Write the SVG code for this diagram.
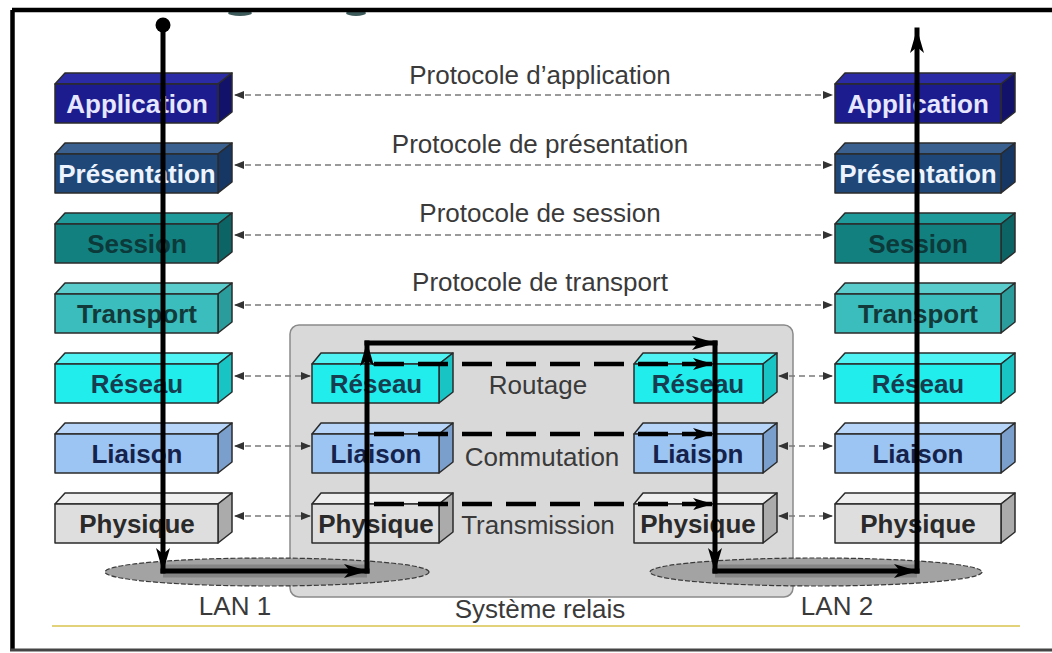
<svg xmlns="http://www.w3.org/2000/svg" width="1052" height="653" viewBox="0 0 1052 653">
<defs>
<style>
.bx{stroke:#2b2b2b;stroke-width:1.5;stroke-linejoin:round}
.lbl{font-family:"Liberation Sans",Arial,sans-serif;font-weight:bold;font-size:26px;text-anchor:middle}
.txt{font-family:"Liberation Sans",Arial,sans-serif;font-size:26px;text-anchor:middle;fill:#3a3a3a}
.proto{fill:none;stroke:#7a7a7a;stroke-width:1.6;stroke-dasharray:6 4;marker-start:url(#sm);marker-end:url(#sm)}
.thick{fill:none;stroke:#000;stroke-width:5;stroke-linecap:square;marker-end:url(#big)}
.tdash{fill:none;stroke:#000;stroke-width:4.5;stroke-dasharray:30 14;marker-end:url(#mid)}
.lan{fill:#a3a3a3;stroke:#3a3a3a;stroke-width:1.2;stroke-dasharray:5 2}
</style>
<marker id="sm" viewBox="0 0 10 8" refX="9" refY="4" markerWidth="10" markerHeight="8" markerUnits="userSpaceOnUse" orient="auto-start-reverse">
<path d="M0,0 L10,4 L0,8 z" fill="#333"/>
</marker>
<marker id="big" viewBox="0 0 24 14" refX="23" refY="7" markerWidth="24" markerHeight="14" markerUnits="userSpaceOnUse" orient="auto">
<path d="M0,0 L24,7 L0,14 L6,7 z" fill="#000"/>
</marker>
<marker id="mid" viewBox="0 0 20 12" refX="19" refY="6" markerWidth="20" markerHeight="12" markerUnits="userSpaceOnUse" orient="auto">
<path d="M0,0 L20,6 L0,12 L5,6 z" fill="#000"/>
</marker>
</defs>

<rect x="0" y="0" width="1052" height="653" fill="#ffffff"/>

<g id="frame">
<ellipse cx="240" cy="13" rx="12" ry="3" fill="#3d5a5a"/>
<ellipse cx="356" cy="13" rx="10" ry="3" fill="#3d5a5a"/>
<line x1="12" y1="10" x2="1052" y2="10" stroke="#000" stroke-width="4.5"/>
<line x1="12.5" y1="10" x2="12.5" y2="651" stroke="#000" stroke-width="4.5"/>
<line x1="10" y1="650" x2="1052" y2="650" stroke="#444" stroke-width="3"/>
<line x1="52" y1="626" x2="1020" y2="626" stroke="#e2d27a" stroke-width="2"/>
</g>

<g id="relay-system">
<rect x="290" y="325" width="503" height="272" rx="9" fill="#d9d9d9" stroke="#8a8a8a" stroke-width="1.5"/>
<text class="txt" x="540" y="618">Système relais</text>
</g>

<g id="lan1">
<ellipse class="lan" cx="267" cy="572" rx="162" ry="14"/>
<text class="txt" x="235" y="615" font-size="25">LAN 1</text>
</g>
<g id="lan2">
<ellipse class="lan" cx="816" cy="572" rx="166" ry="14"/>
<text class="txt" x="837" y="615" font-size="25">LAN 2</text>
</g>

<!-- left stack -->
<g id="l-application">
<path class="bx" d="M55,84 L65,73 L232,73 L218,84 Z" fill="#2b2ba6"/>
<path class="bx" d="M218,84 L232,73 L232,112 L218,123 Z" fill="#12126a"/>
<rect class="bx" x="55" y="84" width="163" height="39" fill="#1c1c8e"/>
<text class="lbl" x="137" y="113" fill="#e6e6ff">Application</text>
</g>
<g id="l-presentation">
<path class="bx" d="M55,154 L65,143 L232,143 L218,154 Z" fill="#3a6090"/>
<path class="bx" d="M218,154 L232,143 L232,182 L218,193 Z" fill="#163763"/>
<rect class="bx" x="55" y="154" width="163" height="39" fill="#1f4878"/>
<text class="lbl" x="137" y="183" fill="#eef4ff">Présentation</text>
</g>
<g id="l-session">
<path class="bx" d="M55,224 L65,213 L232,213 L218,224 Z" fill="#1f9a9a"/>
<path class="bx" d="M218,224 L232,213 L232,252 L218,263 Z" fill="#0d6464"/>
<rect class="bx" x="55" y="224" width="163" height="39" fill="#138080"/>
<text class="lbl" x="137" y="253" fill="#0c3a3a">Session</text>
</g>
<g id="l-transport">
<path class="bx" d="M55,294 L65,283 L232,283 L218,294 Z" fill="#5acccc"/>
<path class="bx" d="M218,294 L232,283 L232,322 L218,333 Z" fill="#2a9c9c"/>
<rect class="bx" x="55" y="294" width="163" height="39" fill="#3cbdbd"/>
<text class="lbl" x="137" y="323" fill="#123a3a">Transport</text>
</g>
<g id="l-reseau">
<path class="bx" d="M55,364 L65,353 L232,353 L218,364 Z" fill="#4ff3f3"/>
<path class="bx" d="M218,364 L232,353 L232,392 L218,403 Z" fill="#18c4c4"/>
<rect class="bx" x="55" y="364" width="163" height="39" fill="#22eded"/>
<text class="lbl" x="137" y="393" fill="#163e50">Réseau</text>
</g>
<g id="l-liaison">
<path class="bx" d="M55,434 L65,423 L232,423 L218,434 Z" fill="#b6d5f8"/>
<path class="bx" d="M218,434 L232,423 L232,462 L218,473 Z" fill="#7b9fcc"/>
<rect class="bx" x="55" y="434" width="163" height="39" fill="#9cc5f3"/>
<text class="lbl" x="137" y="463" fill="#14224c">Liaison</text>
</g>
<g id="l-physique">
<path class="bx" d="M55,504 L65,493 L232,493 L218,504 Z" fill="#efefef"/>
<path class="bx" d="M218,504 L232,493 L232,532 L218,543 Z" fill="#ababab"/>
<rect class="bx" x="55" y="504" width="163" height="39" fill="#dedede"/>
<text class="lbl" x="137" y="533" fill="#2a2a2a">Physique</text>
</g>

<!-- right stack -->
<g id="r-application">
<path class="bx" d="M835,84 L845,73 L1015,73 L1001,84 Z" fill="#2b2ba6"/>
<path class="bx" d="M1001,84 L1015,73 L1015,112 L1001,123 Z" fill="#12126a"/>
<rect class="bx" x="835" y="84" width="166" height="39" fill="#1c1c8e"/>
<text class="lbl" x="918" y="113" fill="#e6e6ff">Application</text>
</g>
<g id="r-presentation">
<path class="bx" d="M835,154 L845,143 L1015,143 L1001,154 Z" fill="#3a6090"/>
<path class="bx" d="M1001,154 L1015,143 L1015,182 L1001,193 Z" fill="#163763"/>
<rect class="bx" x="835" y="154" width="166" height="39" fill="#1f4878"/>
<text class="lbl" x="918" y="183" fill="#eef4ff">Présentation</text>
</g>
<g id="r-session">
<path class="bx" d="M835,224 L845,213 L1015,213 L1001,224 Z" fill="#1f9a9a"/>
<path class="bx" d="M1001,224 L1015,213 L1015,252 L1001,263 Z" fill="#0d6464"/>
<rect class="bx" x="835" y="224" width="166" height="39" fill="#138080"/>
<text class="lbl" x="918" y="253" fill="#0c3a3a">Session</text>
</g>
<g id="r-transport">
<path class="bx" d="M835,294 L845,283 L1015,283 L1001,294 Z" fill="#5acccc"/>
<path class="bx" d="M1001,294 L1015,283 L1015,322 L1001,333 Z" fill="#2a9c9c"/>
<rect class="bx" x="835" y="294" width="166" height="39" fill="#3cbdbd"/>
<text class="lbl" x="918" y="323" fill="#123a3a">Transport</text>
</g>
<g id="r-reseau">
<path class="bx" d="M835,364 L845,353 L1015,353 L1001,364 Z" fill="#4ff3f3"/>
<path class="bx" d="M1001,364 L1015,353 L1015,392 L1001,403 Z" fill="#18c4c4"/>
<rect class="bx" x="835" y="364" width="166" height="39" fill="#22eded"/>
<text class="lbl" x="918" y="393" fill="#163e50">Réseau</text>
</g>
<g id="r-liaison">
<path class="bx" d="M835,434 L845,423 L1015,423 L1001,434 Z" fill="#b6d5f8"/>
<path class="bx" d="M1001,434 L1015,423 L1015,462 L1001,473 Z" fill="#7b9fcc"/>
<rect class="bx" x="835" y="434" width="166" height="39" fill="#9cc5f3"/>
<text class="lbl" x="918" y="463" fill="#14224c">Liaison</text>
</g>
<g id="r-physique">
<path class="bx" d="M835,504 L845,493 L1015,493 L1001,504 Z" fill="#efefef"/>
<path class="bx" d="M1001,504 L1015,493 L1015,532 L1001,543 Z" fill="#ababab"/>
<rect class="bx" x="835" y="504" width="166" height="39" fill="#dedede"/>
<text class="lbl" x="918" y="533" fill="#2a2a2a">Physique</text>
</g>

<!-- relay left stack -->
<g id="m1-reseau">
<path class="bx" d="M312,364 L321,353 L453,353 L439,364 Z" fill="#4ff3f3"/>
<path class="bx" d="M439,364 L453,353 L453,392 L439,403 Z" fill="#18c4c4"/>
<rect class="bx" x="312" y="364" width="127" height="39" fill="#22eded"/>
<text class="lbl" x="376" y="393" fill="#163e50">Réseau</text>
</g>
<g id="m1-liaison">
<path class="bx" d="M312,434 L321,423 L453,423 L439,434 Z" fill="#b6d5f8"/>
<path class="bx" d="M439,434 L453,423 L453,462 L439,473 Z" fill="#7b9fcc"/>
<rect class="bx" x="312" y="434" width="127" height="39" fill="#9cc5f3"/>
<text class="lbl" x="376" y="463" fill="#14224c">Liaison</text>
</g>
<g id="m1-physique">
<path class="bx" d="M312,504 L321,493 L453,493 L439,504 Z" fill="#efefef"/>
<path class="bx" d="M439,504 L453,493 L453,532 L439,543 Z" fill="#ababab"/>
<rect class="bx" x="312" y="504" width="127" height="39" fill="#dedede"/>
<text class="lbl" x="376" y="533" fill="#2a2a2a">Physique</text>
</g>

<!-- relay right stack -->
<g id="m2-reseau">
<path class="bx" d="M634,364 L643,353 L777,353 L763,364 Z" fill="#4ff3f3"/>
<path class="bx" d="M763,364 L777,353 L777,392 L763,403 Z" fill="#18c4c4"/>
<rect class="bx" x="634" y="364" width="129" height="39" fill="#22eded"/>
<text class="lbl" x="698" y="393" fill="#163e50">Réseau</text>
</g>
<g id="m2-liaison">
<path class="bx" d="M634,434 L643,423 L777,423 L763,434 Z" fill="#b6d5f8"/>
<path class="bx" d="M763,434 L777,423 L777,462 L763,473 Z" fill="#7b9fcc"/>
<rect class="bx" x="634" y="434" width="129" height="39" fill="#9cc5f3"/>
<text class="lbl" x="698" y="463" fill="#14224c">Liaison</text>
</g>
<g id="m2-physique">
<path class="bx" d="M634,504 L643,493 L777,493 L763,504 Z" fill="#efefef"/>
<path class="bx" d="M763,504 L777,493 L777,532 L763,543 Z" fill="#ababab"/>
<rect class="bx" x="634" y="504" width="129" height="39" fill="#dedede"/>
<text class="lbl" x="698" y="533" fill="#2a2a2a">Physique</text>
</g>

<g id="labels">
<text class="txt" x="540" y="84">Protocole d’application</text>
<text class="txt" x="540" y="153">Protocole de présentation</text>
<text class="txt" x="540" y="222">Protocole de session</text>
<text class="txt" x="540" y="291">Protocole de transport</text>
<text class="txt" x="538" y="394" fill="#4a4a4a">Routage</text>
<text class="txt" x="542" y="466" fill="#4a4a4a">Commutation</text>
<text class="txt" x="538" y="534" fill="#4a4a4a">Transmission</text>
</g>

<g id="connectors">
<path class="proto" d="M235,95 H832"/>
<path class="proto" d="M235,165 H832"/>
<path class="proto" d="M235,235 H832"/>
<path class="proto" d="M235,305 H832"/>
<path class="proto" d="M235,376 H310"/>
<path class="proto" d="M235,446 H310"/>
<path class="proto" d="M235,516 H310"/>
<path class="proto" d="M779,376 H832"/>
<path class="proto" d="M779,446 H832"/>
<path class="proto" d="M779,516 H832"/>

<path class="tdash" d="M374,364 H712"/>
<path class="tdash" d="M374,434 H712"/>
<path class="tdash" d="M374,504 H712"/>

<line x1="163" y1="571" x2="367" y2="571" stroke="#6e6e6e" stroke-width="13" opacity="0.55"/>
<line x1="715" y1="571" x2="917" y2="571" stroke="#6e6e6e" stroke-width="13" opacity="0.55"/>

<circle cx="163" cy="25" r="7.5" fill="#000"/>
<path class="thick" d="M163,25 V571"/>
<path class="thick" d="M163,571 H367"/>
<path class="thick" d="M367,571 V343"/>
<path class="thick" d="M367,343 H715"/>
<path class="thick" d="M715,343 V571"/>
<path class="thick" d="M715,571 H917"/>
<path class="thick" d="M917,571 V30"/>
</g>
</svg>
